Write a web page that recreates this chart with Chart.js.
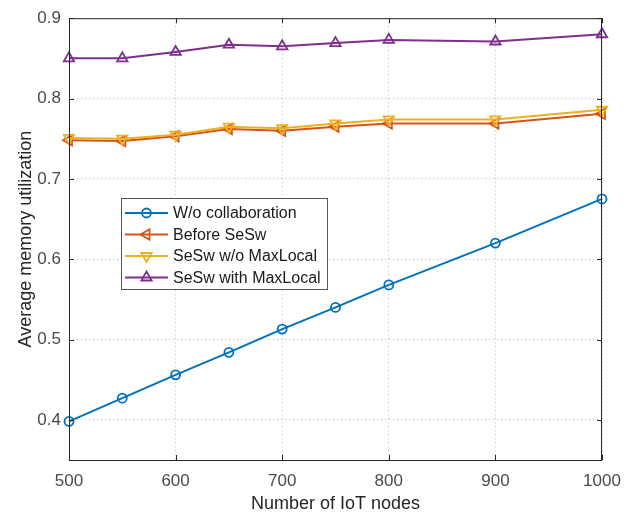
<!DOCTYPE html>
<html>
<head>
<meta charset="utf-8">
<style>
  html, body { margin: 0; padding: 0; background: #fff; }
  #wrap { width: 637px; height: 515px; }
</style>
<script src="https://cdn.jsdelivr.net/npm/chart.js"></script>
</head>
<body>
<div id="wrap"><canvas id="memChart" width="637" height="515"></canvas></div>

<script>

const nodes = [500, 550, 600, 650, 700, 750, 800, 900, 1000];

const woCollab = [0.398, 0.427, 0.456, 0.484, 0.513, 0.540, 0.568, 0.620, 0.675];
const beforeSesw = [0.748, 0.747, 0.753, 0.762, 0.760, 0.765, 0.769, 0.769, 0.781];
const seswNoMax = [0.751, 0.750, 0.755, 0.765, 0.763, 0.769, 0.774, 0.774, 0.786];
const seswMax = [0.850, 0.850, 0.858, 0.867, 0.865, 0.869, 0.873, 0.871, 0.880];

const seriesNames = [
    'W/o collaboration',
    'Before SeSw',
    'SeSw w/o MaxLocal',
    'SeSw with MaxLocal'
];

const xTicks = [500, 600, 700, 800, 900, 1000];
const yTicks = [0.4, 0.5, 0.6, 0.7, 0.8, 0.9];

const axisColor = '#262626';
const textColor = '#4a4a4a';
const fontFamily = 'Arial, "Liberation Sans", Helvetica, sans-serif';

function makeSet(label, values, color, style, rotation, radius, order) {
    return {
        label: label,
        data: nodes.map((x, i) => ({ x: x, y: values[i] })),
        borderColor: color,
        backgroundColor: color,
        borderWidth: 2,
        pointStyle: style,
        pointRotation: rotation,
        pointRadius: radius,
        pointBorderWidth: 1.8,
        pointBackgroundColor: 'rgba(0,0,0,0)',
        pointBorderColor: color,
        tension: 0,
        clip: false,
        order: order
    };
}

const datasets = [
    makeSet(seriesNames[0], woCollab, '#0072BD', 'circle', 0, 4.5, 3),
    makeSet(seriesNames[1], beforeSesw, '#D95319', 'triangle', -90, 6, 2),
    makeSet(seriesNames[2], seswNoMax, '#EDB120', 'triangle', 180, 6, 1),
    makeSet(seriesNames[3], seswMax, '#7E2F8E', 'triangle', 0, 6, 0)
];

// box around the axes plus the small inward ticks on all four sides
const boxPlugin = {
    id: 'boxPlugin',
    afterDraw(chart) {
        const ctx = chart.ctx;
        const a = chart.chartArea;
        const xs = chart.scales.x;
        const ys = chart.scales.y;
        ctx.save();
        ctx.strokeStyle = axisColor;
        ctx.lineWidth = 1;
        ctx.strokeRect(a.left + 0.5, a.top + 0.5, a.right - a.left - 1, a.bottom - a.top);
        ctx.beginPath();
        xTicks.forEach(v => {
            const px = Math.round(xs.getPixelForValue(v)) + 0.5;
            ctx.moveTo(px, a.bottom);
            ctx.lineTo(px, a.bottom - 5);
            ctx.moveTo(px, a.top);
            ctx.lineTo(px, a.top + 5);
        });
        yTicks.forEach(v => {
            const py = Math.round(ys.getPixelForValue(v)) + 0.5;
            ctx.moveTo(a.left, py);
            ctx.lineTo(a.left + 5, py);
            ctx.moveTo(a.right, py);
            ctx.lineTo(a.right - 5, py);
        });
        ctx.stroke();
        ctx.restore();
    }
};

// legend box drawn inside the plot, like the original figure
const boxLegend = {
    id: 'boxLegend',
    afterDraw(chart) {
        const ctx = chart.ctx;
        const left = 121, top = 198, w = 206, h = 91;
        ctx.save();
        ctx.fillStyle = '#fff';
        ctx.fillRect(left, top, w, h);
        ctx.strokeStyle = '#555';
        ctx.lineWidth = 1;
        ctx.strokeRect(left + 0.5, top + 0.5, w, h);

        ctx.font = '16px ' + fontFamily;
        ctx.textBaseline = 'middle';
        ctx.textAlign = 'left';

        chart.data.datasets.forEach((ds, i) => {
            const y = top + 15 + i * 21.5;
            ctx.strokeStyle = ds.borderColor;
            ctx.lineWidth = 2;
            ctx.beginPath();
            ctx.moveTo(left + 4, y);
            ctx.lineTo(left + 47, y);
            ctx.stroke();
            ctx.lineWidth = ds.pointBorderWidth;
            ctx.fillStyle = 'rgba(0,0,0,0)';
            Chart.helpers.drawPoint(ctx, {
                pointStyle: ds.pointStyle,
                rotation: ds.pointRotation,
                radius: ds.pointRadius,
                borderWidth: ds.pointBorderWidth
            }, left + 25.5, y);
            ctx.fillStyle = '#1a1a1a';
            ctx.fillText(ds.label, left + 52, y + 1);
        });
        ctx.restore();
    }
};

new Chart(document.getElementById('memChart'), {

    type: 'line',

    data: {
        datasets: datasets
    },

    options: {

        responsive: false,
        animation: false,
        devicePixelRatio: 1,

        layout: {
            padding: { top: 16, right: 35, left: 0, bottom: 0 }
        },

        plugins: {
            legend: { display: false },
            tooltip: { enabled: false }
        },

        scales: {

            x: {
                type: 'linear',
                min: 500,
                max: 1000,
                afterBuildTicks: s => { s.ticks = xTicks.map(v => ({ value: v })); },
                afterFit: s => { s.height = 55; },
                ticks: {
                    color: textColor,
                    font: { family: fontFamily, size: 17 },
                    padding: 11,
                    maxRotation: 0,
                    callback: v => String(v)
                },
                grid: {
                    color: 'rgba(38,38,38,0.3)',
                    drawTicks: false
                },
                border: {
                    display: false,
                    dash: [1, 3]
                },
                title: {
                    display: true,
                    text: 'Number of IoT nodes',
                    color: '#262626',
                    font: { family: fontFamily, size: 18 },
                    padding: { top: 0, bottom: 0 }
                }
            },

            y: {
                type: 'linear',
                min: 0.35,
                max: 0.9,
                afterBuildTicks: s => { s.ticks = yTicks.map(v => ({ value: v })); },
                afterFit: s => { s.width = 69; },
                ticks: {
                    color: textColor,
                    font: { family: fontFamily, size: 17 },
                    padding: 8,
                    callback: v => v.toFixed(1)
                },
                grid: {
                    color: 'rgba(38,38,38,0.3)',
                    drawTicks: false
                },
                border: {
                    display: false,
                    dash: [1, 3]
                },
                title: {
                    display: true,
                    text: 'Average memory utilization',
                    color: '#262626',
                    font: { family: fontFamily, size: 18 },
                    padding: { top: 15, bottom: 0 }
                }
            }

        }

    },

    plugins: [boxPlugin, boxLegend]

});

</script>
</body>
</html>
